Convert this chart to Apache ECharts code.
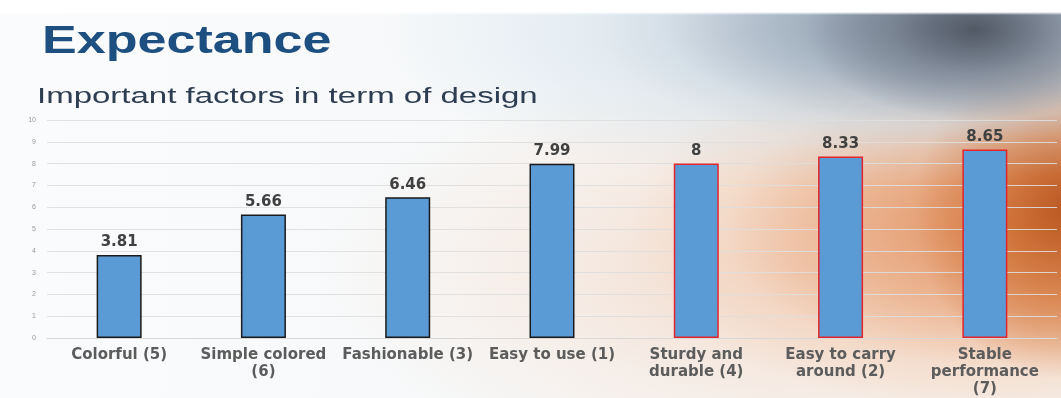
<!DOCTYPE html>
<html>
<head>
<meta charset="utf-8">
<script src="https://cdn.jsdelivr.net/npm/echarts@6/dist/echarts.min.js"></script>
<style>
html,body{margin:0;padding:0;width:1061px;height:398px;overflow:hidden;background:#fafbfc;}
#bg{position:absolute;left:0;top:0;width:1061px;height:398px;
background:
 linear-gradient(180deg, #ffffff 0, #ffffff 12px, rgba(255,255,255,0) 15px),
 radial-gradient(ellipse 170px 90px at 975px 30px, rgba(75,82,94,0.9) 0, rgba(110,120,135,0.6) 50%, rgba(150,165,180,0) 100%),
 radial-gradient(ellipse 330px 125px at 930px 25px, rgba(120,133,150,0.85) 0, rgba(150,165,182,0.65) 45%, rgba(195,210,222,0.3) 80%, rgba(225,238,246,0) 100%),
 radial-gradient(ellipse 470px 160px at 850px 30px, rgba(175,192,208,0.6) 0, rgba(205,222,235,0.4) 60%, rgba(232,244,250,0) 100%),
 radial-gradient(ellipse 150px 170px at 1065px 210px, rgba(185,85,30,0.95) 0, rgba(210,115,55,0.7) 50%, rgba(225,140,90,0) 100%),
 radial-gradient(ellipse 380px 190px at 1010px 225px, rgba(220,130,75,0.9) 0, rgba(232,160,115,0.65) 45%, rgba(242,200,170,0.35) 75%, rgba(250,230,215,0) 100%),
 radial-gradient(ellipse 480px 210px at 800px 270px, rgba(240,200,175,0.6) 0, rgba(246,222,205,0.35) 60%, rgba(250,240,232,0) 100%),
 linear-gradient(90deg, #fafbfc 0%, #f6f8f9 50%, #f5f0ec 100%);
}
#chart{position:absolute;left:0;top:0;width:1061px;height:398px;}
</style>
</head>
<body>
<div id="bg"></div>
<div id="chart"></div>
<script>
const titleText = 'Expectance';
const subtitleText = 'Important factors in term of design';
const categories = ['Colorful (5)', 'Simple colored\n(6)', 'Fashionable (3)', 'Easy to use (1)', 'Sturdy and\ndurable (4)', 'Easy to carry\naround (2)', 'Stable\nperformance\n(7)'];
const values = [3.81, 5.66, 6.46, 7.99, 8, 8.33, 8.65];
const yTicks = [0, 1, 2, 3, 4, 5, 6, 7, 8, 9, 10];

const highlightFrom = 4;
const chart = echarts.init(document.getElementById('chart'), null, {renderer: 'canvas'});
const option = {
  backgroundColor: 'transparent',
  animation: false,
  graphic: [
    {type: 'text', x: 42, y: 43, scaleX: 1.37, originX: 0, originY: 0,
     style: {text: titleText, font: 'bold 38px "Liberation Sans", Arial, sans-serif', fill: '#1d4f80', verticalAlign: 'middle', align: 'left'}},
    {type: 'text', x: 37, y: 97, scaleX: 1.5, originX: 0, originY: 0,
     style: {text: subtitleText, font: '22px "Liberation Sans", Arial, sans-serif', fill: '#2d3e52', verticalAlign: 'middle', align: 'left'}}
  ],
  grid: {left: 47, right: 4, top: 120, bottom: 57, containLabel: false},
  xAxis: {
    type: 'category',
    data: categories,
    axisTick: {show: false},
    axisLine: {lineStyle: {color: '#d8d8d8', width: 1}},
    axisLabel: {
      interval: 0, margin: 9, color: '#5c5c5c',
      fontFamily: '"DejaVu Sans", sans-serif', fontWeight: 'bold', fontSize: 15, lineHeight: 17
    }
  },
  yAxis: {
    type: 'value', min: yTicks[0], max: yTicks[yTicks.length - 1], interval: 1,
    axisLine: {show: false}, axisTick: {show: false},
    axisLabel: {color: '#9a9a9a', fontSize: 7, margin: 11, fontFamily: '"Liberation Sans", sans-serif'},
    splitLine: {lineStyle: {color: 'rgba(222,222,222,0.9)', width: 1}}
  },
  series: [{
    type: 'bar',
    barWidth: 45,
    data: values.map((v, i) => ({
      value: v,
      itemStyle: {borderColor: i < highlightFrom ? '#1a1a1a' : '#e3262c'}
    })),
    itemStyle: {color: '#5b9bd5', borderWidth: 1.5},
    label: {
      show: true, position: 'top', distance: 5, color: '#404040',
      fontFamily: '"DejaVu Sans", sans-serif', fontWeight: 'bold', fontSize: 15
    }
  }]
};
chart.setOption(option);
</script>
</body>
</html>
